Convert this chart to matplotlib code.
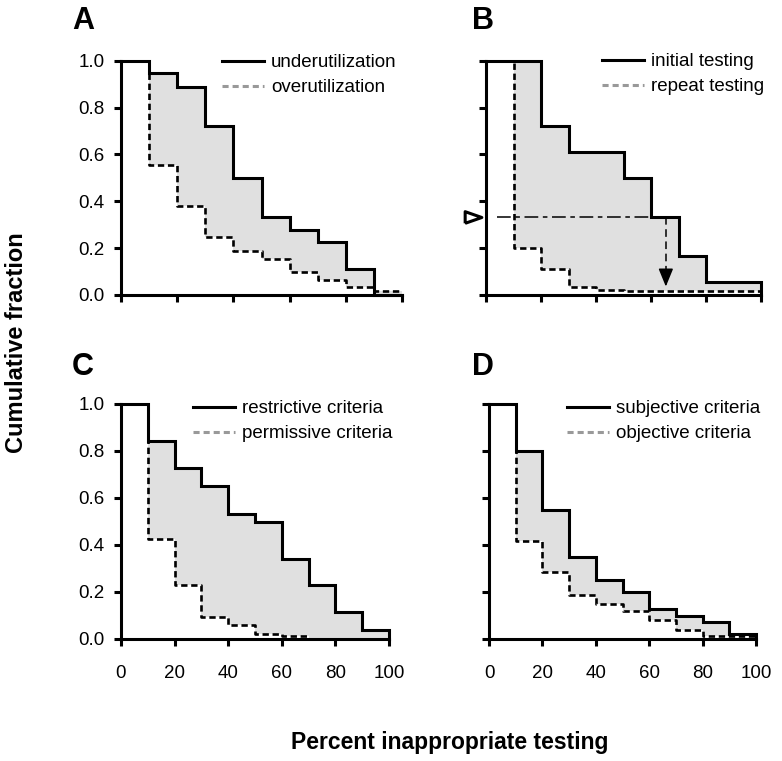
import numpy as np
import matplotlib.pyplot as plt
from matplotlib.lines import Line2D

plt.rcParams['font.family'] = ['Liberation Sans', 'DejaVu Sans']

# bin edges (percent inappropriate testing)
edges = [0, 10, 20, 30, 40, 50, 60, 70, 80, 90, 100]

# A
a_under = [1.0, 0.946, 0.889, 0.721, 0.501, 0.331, 0.277, 0.225, 0.111, 0.0]
a_over = [1.0, 0.555, 0.381, 0.246, 0.188, 0.152, 0.100, 0.064, 0.036, 0.017]
# B
b_initial = [1.0, 1.0, 0.721, 0.610, 0.610, 0.501, 0.331, 0.166, 0.054, 0.054]
b_repeat = [1.0, 0.199, 0.111, 0.036, 0.021, 0.018, 0.018, 0.018, 0.018, 0.018]
# C
c_restrictive = [1.0, 0.844, 0.725, 0.650, 0.533, 0.496, 0.341, 0.228, 0.111, 0.036]
c_permissive = [1.0, 0.424, 0.228, 0.092, 0.057, 0.021, 0.010, np.nan, np.nan, np.nan]
# D
d_subjective = [1.0, 0.799, 0.546, 0.346, 0.248, 0.198, 0.124, 0.097, 0.071, 0.021]
d_objective = [1.0, 0.417, 0.282, 0.186, 0.145, 0.118, 0.080, 0.038, 0.010, 0.010]

panels = [
    ('A', a_under, a_over, 'underutilization', 'overutilization'),
    ('B', b_initial, b_repeat, 'initial testing', 'repeat testing'),
    ('C', c_restrictive, c_permissive, 'restrictive criteria', 'permissive criteria'),
    ('D', d_subjective, d_objective, 'subjective criteria', 'objective criteria'),
]

# B annotation: median marker
b_level = 0.331
b_arrow_x = 65.4

W, H = 782, 761
fig = plt.figure(figsize=(W / 100, H / 100), dpi=100)

# axes boxes in pixels: left, right, top, bottom
boxes = [(121, 402, 60.7, 295), (486, 761, 60.7, 295),
         (121, 389, 404, 638.5), (489, 756, 404, 638.5)]
# legend anchor (pixels): handle start x, top y
leg_pos = [(222, 54), (602, 53), (193, 400), (567, 400)]
letter_pos = [(83, 21), (483, 21), (83, 367), (483, 367)]

fs = 13.5
lw_s = 2.2
lw_d = 1.9
for i, (letter, solid, dashed, lab1, lab2) in enumerate(panels):
    l, r, t, b = boxes[i]
    ax = fig.add_axes([l / W, 1 - b / H, (r - l) / W, (b - t) / H])
    ys = np.array(solid + [0.0])
    yd = np.array(dashed + [dashed[-1]])
    fs_lo = np.nan_to_num(yd)
    ax.fill_between(edges, ys, fs_lo, step='post', color='#e0e0e0', lw=0)
    ax.plot(edges, yd, drawstyle='steps-post', color='k', lw=lw_d,
            dashes=(2.4, 1.4), clip_on=False)
    ax.plot(edges, ys, drawstyle='steps-post', color='k', lw=lw_s,
            clip_on=False, solid_joinstyle='miter')
    ax.set_xlim(0, 100)
    ax.set_ylim(0, 1.0)
    for s in ['top', 'right']:
        ax.spines[s].set_visible(False)
    for s in ['left', 'bottom']:
        ax.spines[s].set_linewidth(lw_s)
    ax.set_xticks([0, 20, 40, 60, 80, 100])
    ax.set_yticks([0, 0.2, 0.4, 0.6, 0.8, 1.0])
    ax.tick_params(direction='out', length=5, width=lw_s, labelsize=fs)
    ax.tick_params(axis='x', pad=14)
    ax.tick_params(axis='y', pad=7)
    if i < 2:
        ax.set_xticklabels([])
    if i % 2 == 1:
        ax.set_yticklabels([])
    else:
        ax.set_yticklabels(['0.0', '0.2', '0.4', '0.6', '0.8', '1.0'])

    handles = [Line2D([], [], color='k', lw=lw_s),
               Line2D([], [], color='#999999', lw=lw_s, dashes=(2.0, 1.3))]
    lx, ly = leg_pos[i]
    ax.legend(handles, [lab1, lab2], loc='upper left', frameon=False,
              bbox_to_anchor=(lx / W, 1 - ly / H), bbox_transform=fig.transFigure,
              borderpad=0, borderaxespad=0, handlelength=2.25,
              handletextpad=0.37, labelspacing=0.42, fontsize=fs)

    fig.text(letter_pos[i][0] / W, 1 - letter_pos[i][1] / H, letter,
             fontsize=22, fontweight='bold', ha='center', va='center')

    if letter == 'B':
        ax.plot([4, 60], [b_level, b_level], color='k', lw=1.1,
                dashes=(9, 3, 3, 3))
        ax.plot([-4.7], [b_level], marker=[(-1, -0.7), (1, 0), (-1, 0.7), (-1, -0.7)],
                ms=12, mfc='white', mec='k', mew=2.2, clip_on=False)
        ax.plot([b_arrow_x, b_arrow_x], [b_level, 0.10], color='k', lw=1.1,
                dashes=(5, 3))
        ax.annotate('', xy=(b_arrow_x, 0.036), xytext=(b_arrow_x, 0.10),
                    arrowprops=dict(arrowstyle='-|>,head_length=1.1,head_width=0.45',
                                    color='k', lw=1.1, shrinkA=0, shrinkB=0))

fig.text(17 / W, 1 - 343 / H, 'Cumulative fraction', rotation=90,
         fontsize=17, fontweight='bold', ha='center', va='center')
fig.text(450 / W, 1 - 742 / H, 'Percent inappropriate testing',
         fontsize=16.5, fontweight='bold', ha='center', va='center')

fig.savefig('out.png', dpi=100)
